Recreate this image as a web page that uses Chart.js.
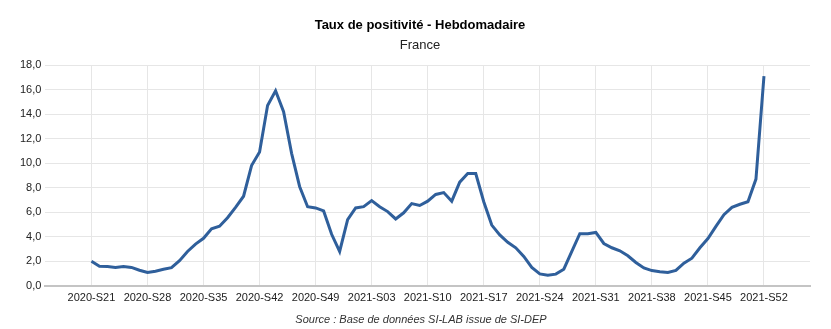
<!DOCTYPE html>
<html>
<head>
<meta charset="utf-8">
<script src="https://cdn.jsdelivr.net/npm/chart.js@4.4.1/dist/chart.umd.min.js"></script>
<style>
  html, body { margin: 0; padding: 0; background: #fff; }
  #wrap { width: 831px; height: 329px; position: relative; }
</style>
</head>
<body>
<div id="wrap"><canvas id="chart"></canvas></div>
<script>
// semaines ISO, 2020-S21 à 2021-S52
const weeks = [
  '2020-S21','2020-S22','2020-S23','2020-S24','2020-S25','2020-S26','2020-S27','2020-S28','2020-S29','2020-S30',
  '2020-S31','2020-S32','2020-S33','2020-S34','2020-S35','2020-S36','2020-S37','2020-S38','2020-S39','2020-S40',
  '2020-S41','2020-S42','2020-S43','2020-S44','2020-S45','2020-S46','2020-S47','2020-S48','2020-S49','2020-S50',
  '2020-S51','2020-S52','2020-S53','2021-S01','2021-S02','2021-S03','2021-S04','2021-S05','2021-S06','2021-S07',
  '2021-S08','2021-S09','2021-S10','2021-S11','2021-S12','2021-S13','2021-S14','2021-S15','2021-S16','2021-S17',
  '2021-S18','2021-S19','2021-S20','2021-S21','2021-S22','2021-S23','2021-S24','2021-S25','2021-S26','2021-S27',
  '2021-S28','2021-S29','2021-S30','2021-S31','2021-S32','2021-S33','2021-S34','2021-S35','2021-S36','2021-S37',
  '2021-S38','2021-S39','2021-S40','2021-S41','2021-S42','2021-S43','2021-S44','2021-S45','2021-S46','2021-S47',
  '2021-S48','2021-S49','2021-S50','2021-S51','2021-S52'
];

// taux de positivité hebdomadaire (%)
const positivity = [
  2.0, 1.6, 1.57, 1.5, 1.58, 1.5, 1.27, 1.08, 1.18, 1.35,
  1.48, 2.05, 2.8, 3.4, 3.87, 4.65, 4.85, 5.55, 6.4, 7.3,
  9.8, 10.9, 14.7, 15.9, 14.2, 10.8, 8.1, 6.45, 6.35, 6.1,
  4.2, 2.8, 5.4, 6.35, 6.45, 6.95, 6.45, 6.05, 5.45, 5.95,
  6.7, 6.55, 6.9, 7.45, 7.6, 6.9, 8.45, 9.15, 9.15, 6.85,
  4.95, 4.15, 3.55, 3.1, 2.4, 1.5, 0.97, 0.86, 0.95, 1.35,
  2.8, 4.25, 4.25, 4.35, 3.45, 3.1, 2.85, 2.45, 1.9, 1.46,
  1.24, 1.15, 1.08, 1.25, 1.85, 2.25, 3.1, 3.85, 4.85, 5.8,
  6.4, 6.65, 6.85, 8.7, 17.1
];

const tickWeeks = [
  '2020-S21','2020-S28','2020-S35','2020-S42','2020-S49','2021-S03','2021-S10',
  '2021-S17','2021-S24','2021-S31','2021-S38','2021-S45','2021-S52'
];

const titleText = 'Taux de positivité - Hebdomadaire';
const subtitleText = 'France';
const sourceText = 'Source : Base de données SI-LAB issue de SI-DEP';

const FONT = "'Liberation Sans', Arial, Helvetica, sans-serif";

// titre, sous-titre et source, centrés sur x = 420
const textBlocks = {
  id: 'textBlocks',
  afterDraw (chart) {
    const ctx = chart.ctx;
    ctx.save();
    ctx.textAlign = 'center';
    ctx.textBaseline = 'middle';
    ctx.fillStyle = '#000';
    ctx.font = `bold 13px ${FONT}`;
    ctx.fillText(titleText, 420, 25);
    ctx.fillStyle = '#222';
    ctx.font = `13px ${FONT}`;
    ctx.fillText(subtitleText, 420, 45);
    ctx.fillStyle = '#333';
    ctx.font = `italic 11px ${FONT}`;
    ctx.fillText(sourceText, 421, 320);
    ctx.restore();
  }
};

const formatFr = (v) => v.toFixed(1).replace('.', ',');

new Chart(document.getElementById('chart'), {
  type: 'line',
  data: {
    datasets: [{
      data: positivity.map((v, i) => ({ x: i, y: v })),
      borderColor: '#2f5f9b',
      borderWidth: 3,
      pointRadius: 0,
      tension: 0,
      fill: false
    }]
  },
  options: {
    responsive: true,
    maintainAspectRatio: false,
    animation: false,
    layout: { padding: { top: 65, left: 16, right: 21, bottom: 18 } },
    plugins: {
      legend: { display: false },
      tooltip: { enabled: false }
    },
    scales: {
      x: {
        type: 'linear',
        min: -5.75,
        max: 89.75,
        afterBuildTicks: (scale) => {
          scale.ticks = tickWeeks.map(w => ({ value: weeks.indexOf(w) }));
        },
        ticks: {
          autoSkip: false,
          maxRotation: 0,
          padding: 6,
          color: '#222',
          font: { family: FONT, size: 11 },
          callback: (value) => weeks[value]
        },
        grid: { color: '#e6e6e6', lineWidth: 1, drawTicks: false },
        border: { display: true, color: '#c4c4c4', width: 2 }
      },
      y: {
        min: 0,
        max: 18,
        ticks: {
          stepSize: 2,
          padding: 4,
          color: '#222',
          font: { family: FONT, size: 11 },
          callback: (value) => formatFr(value)
        },
        grid: { color: '#e6e6e6', lineWidth: 1, drawTicks: false },
        border: { display: false }
      }
    }
  },
  plugins: [textBlocks]
});
</script>
</body>
</html>
